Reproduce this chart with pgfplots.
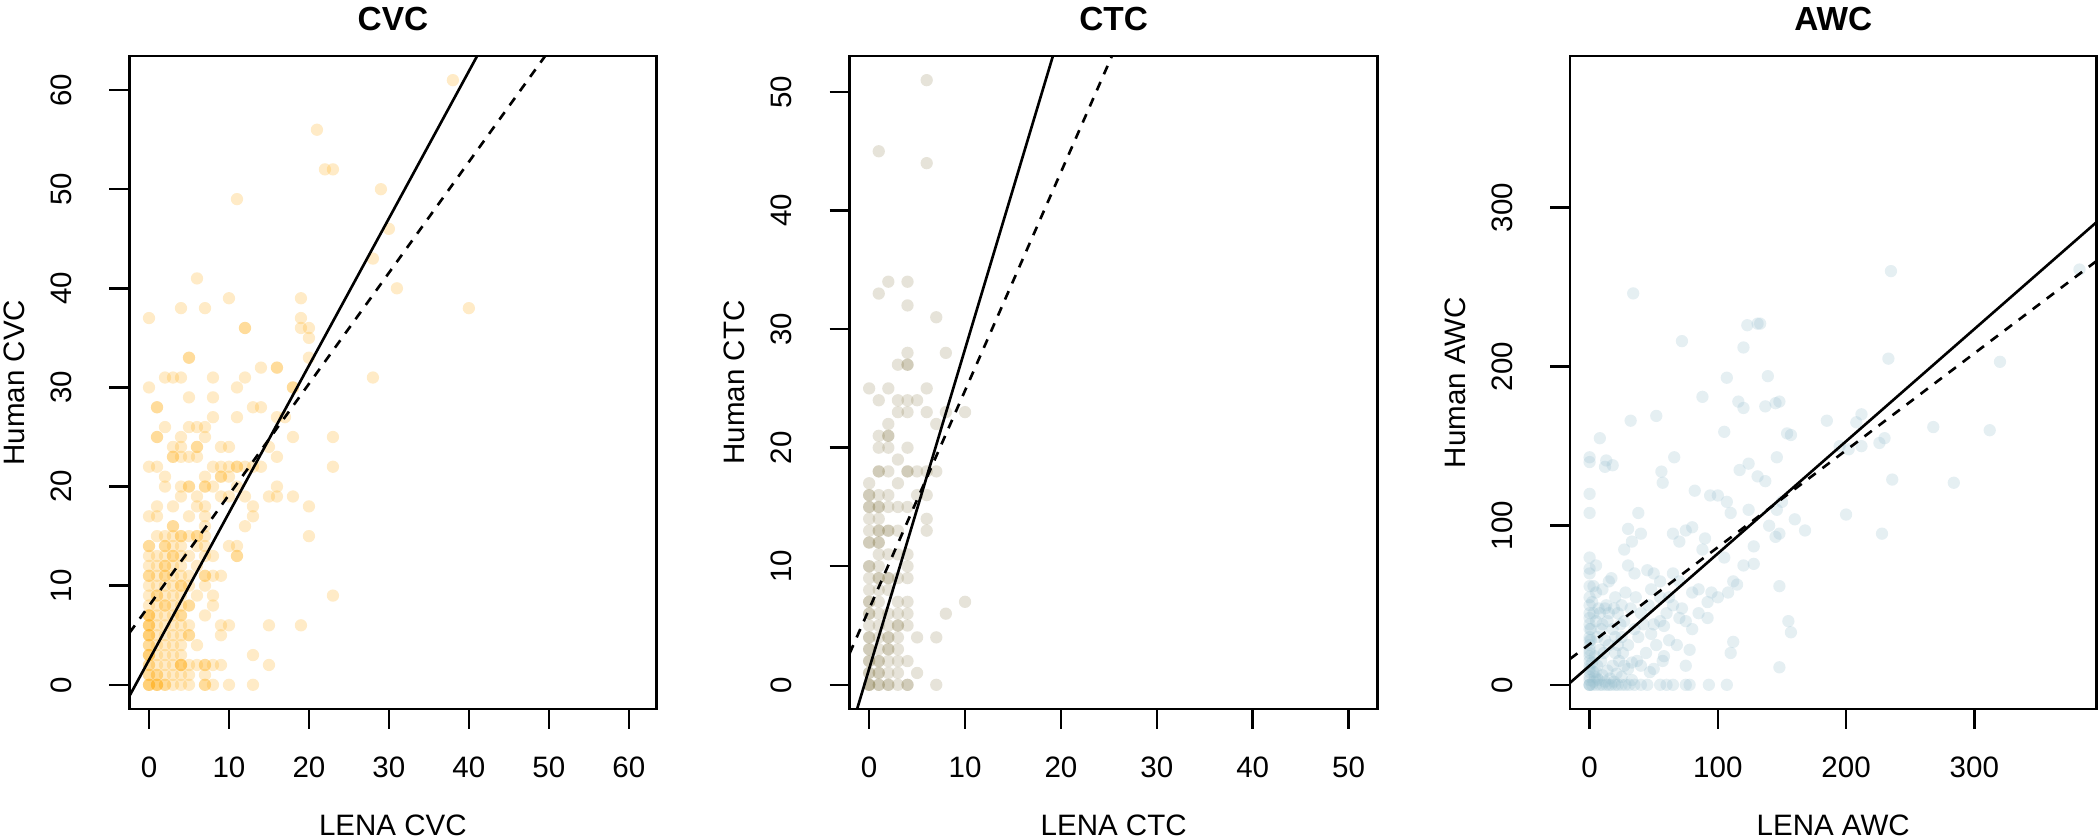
\documentclass[border=0pt]{standalone}
\usepackage{fontspec}
\setmainfont{Liberation Sans}
\usepackage{pgfplots}
\pgfplotsset{compat=1.18}
\definecolor{cvc}{RGB}{255,165,0}
\definecolor{ctc}{RGB}{128,115,64}
\definecolor{awc}{RGB}{150,190,205}
\tikzset{ptitle/.style={anchor=base, inner sep=0pt, font=\fontsize{9.5}{11}\selectfont\bfseries}}
\pgfplotsset{
  rpanel/.style={
    scale only axis, height=6.53cm,
    axis line style={line width=0.7pt, black},
    tick align=outside, major tick length=0.2cm,
    every tick/.style={line width=0.7pt, black},
    xtick pos=bottom, ytick pos=left,
    /pgf/number format/assume math mode=true,
    tick label style={font=\fontsize{8.4}{10}\selectfont},
    yticklabel style={rotate=90, anchor=south, inner sep=0pt},
    xticklabel style={anchor=north, inner sep=0pt},
    yticklabel shift=0.37cm,
    xticklabel shift=0.27cm,
    label style={font=\fontsize{8.4}{10}\selectfont},
    xlabel style={at={(axis description cs:0.5,-0.1937)}, anchor=base},
    ylabel style={at={(axis description cs:-0.1984,0.5)}, anchor=base},
    clip mode=individual,
  },
  pts/.style 2 args={only marks, mark=*, mark size=1.75pt, mark options={line width=0pt, draw opacity=0, fill=#1, fill opacity=#2}},
  reg/.style={black, line width=0.75pt},
  regd/.style={black, line width=0.75pt, dash pattern=on 2.6pt off 2.4pt},
}
\begin{document}
\begin{tikzpicture}
\path[use as bounding box] (0,0) rectangle (21cm,8.37cm);
% ---------------- CVC
\begin{axis}[rpanel, at={(1.295cm,1.28cm)}, anchor=south west, width=5.268cm,
  xmin=-2.44, xmax=63.44, ymin=-2.44, ymax=63.44,
  xtick={0,10,...,60}, ytick={0,10,...,60},
  xlabel={LENA CVC}, ylabel={Human CVC}]
\addplot[pts={cvc}{0.22}] coordinates {
(0,0)(0,0)(0,0)(1,0)(1,0)(1,0)(2,0)(2,0)(3,0)(4,0)(5,0)(7,0)(7,0)(8,0)(10,0)(13,0)
(0,1)(0,1)(1,1)(1,1)(2,1)(3,1)(4,1)(5,1)(7,1)
(0,2)(0,2)(1,2)(2,2)(3,2)(4,2)(4,2)(4,2)(5,2)(6,2)(7,2)(7,2)(8,2)(9,2)(15,2)
(0,3)(0,3)(0,3)(1,3)(2,3)(3,3)(4,3)(13,3)
(0,4)(0,4)(1,4)(2,4)(3,4)(4,4)(6,4)
(0,5)(0,5)(0,5)(1,5)(2,5)(3,5)(4,5)(5,5)(5,5)(9,5)
(0,6)(0,6)(0,6)(1,6)(2,6)(3,6)(4,6)(5,6)(9,6)(10,6)(15,6)(19,6)
(0,7)(0,7)(0,7)(1,7)(2,7)(3,7)(4,7)(4,7)(7,7)
(0,8)(1,8)(2,8)(2,8)(3,8)(4,8)(5,8)(5,8)(8,8)
(0,9)(1,9)(1,9)(2,9)(3,9)(4,9)(6,9)(8,9)(23,9)
(0,10)(1,10)(2,10)(3,10)(4,10)(4,10)(5,10)(7,10)
(0,11)(0,11)(1,11)(2,11)(2,11)(3,11)(4,11)(5,11)(7,11)(7,11)(8,11)(9,11)
(0,12)(1,12)(2,12)(2,12)(3,12)(4,12)(6,12)
(0,13)(1,13)(2,13)(3,13)(3,13)(4,13)(5,13)(7,13)(8,13)(11,13)(11,13)
(0,14)(0,14)(2,14)(2,14)(3,14)(4,14)(6,14)(7,14)(10,14)(11,14)
(1,15)(2,15)(3,15)(4,15)(4,15)(5,15)(6,15)(6,15)(7,15)(20,15)
(3,16)(3,16)(7,16)(12,16)
(0,17)(1,17)(5,17)(7,17)(13,17)
(1,18)(3,18)(6,18)(7,18)(13,18)(20,18)
(4,19)(6,19)(9,19)(10,19)(12,19)(15,19)(16,19)(18,19)
(2,20)(4,20)(5,20)(5,20)(7,20)(7,20)(8,20)(11,20)(16,20)
(2,21)(7,21)(9,21)(9,21)(10,21)
(0,22)(1,22)(8,22)(9,22)(10,22)(11,22)(11,22)(12,22)(13,22)(14,22)(23,22)
(3,23)(3,23)(4,23)(5,23)(6,23)(16,23)
(3,24)(4,24)(6,24)(6,24)(9,24)(10,24)(15,24)
(1,25)(1,25)(4,25)(7,25)(18,25)(23,25)
(2,26)(5,26)(6,26)(7,26)
(8,27)(11,27)(16,27)(17,27)
(1,28)(1,28)(13,28)(14,28)
(5,29)(8,29)
(0,30)(11,30)(18,30)(18,30)
(2,31)(3,31)(4,31)(8,31)(12,31)(28,31)
(14,32)(16,32)(16,32)
(5,33)(5,33)(20,33)
(20,35)
(12,36)(12,36)(19,36)(20,36)
(0,37)(19,37)
(4,38)(7,38)(40,38)
(10,39)(19,39)
(31,40)(6,41)(28,43)(30,46)(11,49)(29,50)(22,52)(23,52)(21,56)(38,61)
};
\addplot[reg] coordinates {(-2.44,-1.12) (63.44,96.71)};
\addplot[regd] coordinates {(-2.44,5.24) (63.44,79.0)};
\node[ptitle] at (rel axis cs:0.5,1.0395) {CVC};
\end{axis}
% ---------------- CTC
\begin{axis}[rpanel, at={(8.496cm,1.28cm)}, anchor=south west, width=5.281cm,
  xmin=-2.04, xmax=53.04, ymin=-2.04, ymax=53.04,
  xtick={0,10,...,50}, ytick={0,10,...,50},
  xlabel={LENA CTC}, ylabel={Human CTC}]
\addplot[pts={ctc}{0.2}] coordinates {
(6,51)(1,45)(6,44)(1,33)(2,34)(4,34)(4,32)(7,31)(3,27)(4,27)(4,27)(4,28)(8,28)
(0,25)(2,25)(6,25)(1,24)(3,24)(4,24)(5,24)(3,23)(4,23)(6,23)(8,23)(10,23)(7,22)(2,22)
(1,21)(2,21)(2,21)(1,20)(2,20)(4,20)(3,19)(1,18)(1,18)(2,18)(4,18)(4,18)(5,18)(6,18)(7,18)
(0,17)(3,17)(0,16)(0,16)(1,16)(2,16)(5,16)(6,16)(0,15)(0,15)(1,15)(1,15)(2,15)(3,15)(4,15)
(6,14)(6,13)(0,14)(1,14)(0,13)(1,13)(1,13)(2,13)(2,13)(3,13)
(0,12)(0,12)(1,12)(1,12)(1,11)(2,11)(3,11)(4,11)(0,10)(0,10)(1,10)(4,10)
(0,9)(1,9)(1,9)(2,9)(2,9)(3,9)(4,9)(0,8)(1,8)(2,8)
(0,7)(0,7)(1,7)(3,7)(4,7)(10,7)(8,6)(0,6)(0,6)(1,6)(2,6)(3,6)(4,6)
(0,5)(1,5)(2,5)(3,5)(3,5)(4,5)(0,4)(0,4)(1,4)(2,4)(2,4)(3,4)(5,4)(7,4)
(0,3)(0,3)(1,3)(2,3)(2,3)(3,3)(0,2)(0,2)(1,2)(1,2)(2,2)(3,2)(4,2)
(0,1)(0,1)(1,1)(1,1)(2,1)(3,1)(5,1)(0,0)(0,0)(0,0)(1,0)(1,0)(2,0)(2,0)(3,0)(4,0)(4,0)(7,0)
};
\addplot[reg] coordinates {(-2.04,-4.15) (53.04,144.4)};
\addplot[regd] coordinates {(-2.04,2.64) (53.04,104.1)};
\node[ptitle] at (rel axis cs:0.5,1.0395) {CTC};
\end{axis}
% ---------------- AWC
\begin{axis}[rpanel, at={(15.701cm,1.28cm)}, anchor=south west, width=5.263cm,
  xmin=-15.2, xmax=395.2, ymin=-15.2, ymax=395.2,
  xtick={0,100,200,300}, ytick={0,100,200,300},
  xlabel={LENA AWC}, ylabel={Human AWC}]
\addplot[pts={awc}{0.25}] coordinates {
(382,261)(235,260)(34,246)(133,227)(131,227)(123,226)(72,216)(120,212)(233,205)(320,203)
(107,193)(139,194)(88,181)(116,178)(120,174)(137,175)(145,177)(148,178)(52,169)(32,166)
(185,166)(212,170)(208,165)(105,159)(268,162)(312,160)(154,158)(157,157)(8,155)(226,152)
(230,155)(195,150)(202,148)(212,150)(0,143)(0,140)(13,141)(18,138)(12,137)(66,143)
(146,143)(124,139)(117,135)(56,134)(57,127)(131,131)(137,128)(236,129)(284,127)(82,122)
(0,120)(94,119)(100,119)(107,115)(110,108)(124,110)(0,108)(38,108)(200,107)(146,110)
(150,115)(160,104)(168,97)(228,95)(140,100)(145,93)(148,95)(30,98)(40,95)(33,90)
(65,95)(75,97)(80,99)(90,92)(88,85)(70,90)(128,87)(27,85)(30,75)(35,70)(45,72)(50,70)
(55,65)(65,70)(70,65)(105,80)(120,75)(128,76)(112,65)(115,63)(100,55)(95,58)(92,52)
(108,58)(148,62)(155,40)(157,33)(110,20)(112,27)(148,11)(55,40)(58,37)(50,38)(75,40)
(80,35)(62,28)(68,25)(78,22)(58,18)(57,15)(75,12)
(0,80)(0,73)(0,70)(0,62)(0,55)(0,50)(0,45)(0,42)(0,38)(0,35)(0,30)(0,28)(0,25)(0,22)
(0,20)(0,18)(0,15)(0,12)(0,10)(0,8)(0,5)(0,3)(0,0)(0,0)(0,0)
(2,0)(3,2)(4,5)(5,0)(5,8)(6,12)(7,3)(8,0)(9,15)(10,0)(10,6)(11,20)(12,2)(13,0)(14,9)
(15,0)(15,25)(16,4)(17,0)(18,12)(19,2)(20,0)(20,30)(21,7)(22,0)(23,15)(25,0)(25,5)
(26,20)(28,0)(30,10)(31,0)(33,3)(35,0)(37,15)(40,0)(45,0)(47,8)(55,0)(60,0)(65,0)
(75,0)(78,0)(93,0)(107,0)
(3,45)(5,40)(5,75)(6,30)(7,48)(8,45)(9,35)(10,60)(10,38)(12,28)(13,50)(14,40)(15,65)
(15,45)(17,67)(18,35)(19,48)(20,55)(20,20)(22,45)(24,38)(25,50)(25,30)(27,40)(28,58)
(30,25)(32,48)(35,35)(36,55)(38,30)(40,45)(42,38)(44,20)(46,50)(48,32)(50,10)(52,25)
(33,14)(27,12)(40,12)(22,25)(12,48)(8,22)(4,18)(3,8)(6,4)(2,14)(1,28)(1,35)(2,52)
(3,62)(5,58)(60,45)(65,50)(70,42)(72,48)(85,45)(62,55)(85,60)(92,42)(80,58)(55,55)(48,60)
};
\addplot[reg] coordinates {(-15.2,1.3) (395.2,290.7)};
\addplot[regd] coordinates {(-15.2,16.3) (395.2,266.3)};
\node[ptitle] at (rel axis cs:0.5,1.0395) {AWC};
\end{axis}
\end{tikzpicture}
\end{document}
